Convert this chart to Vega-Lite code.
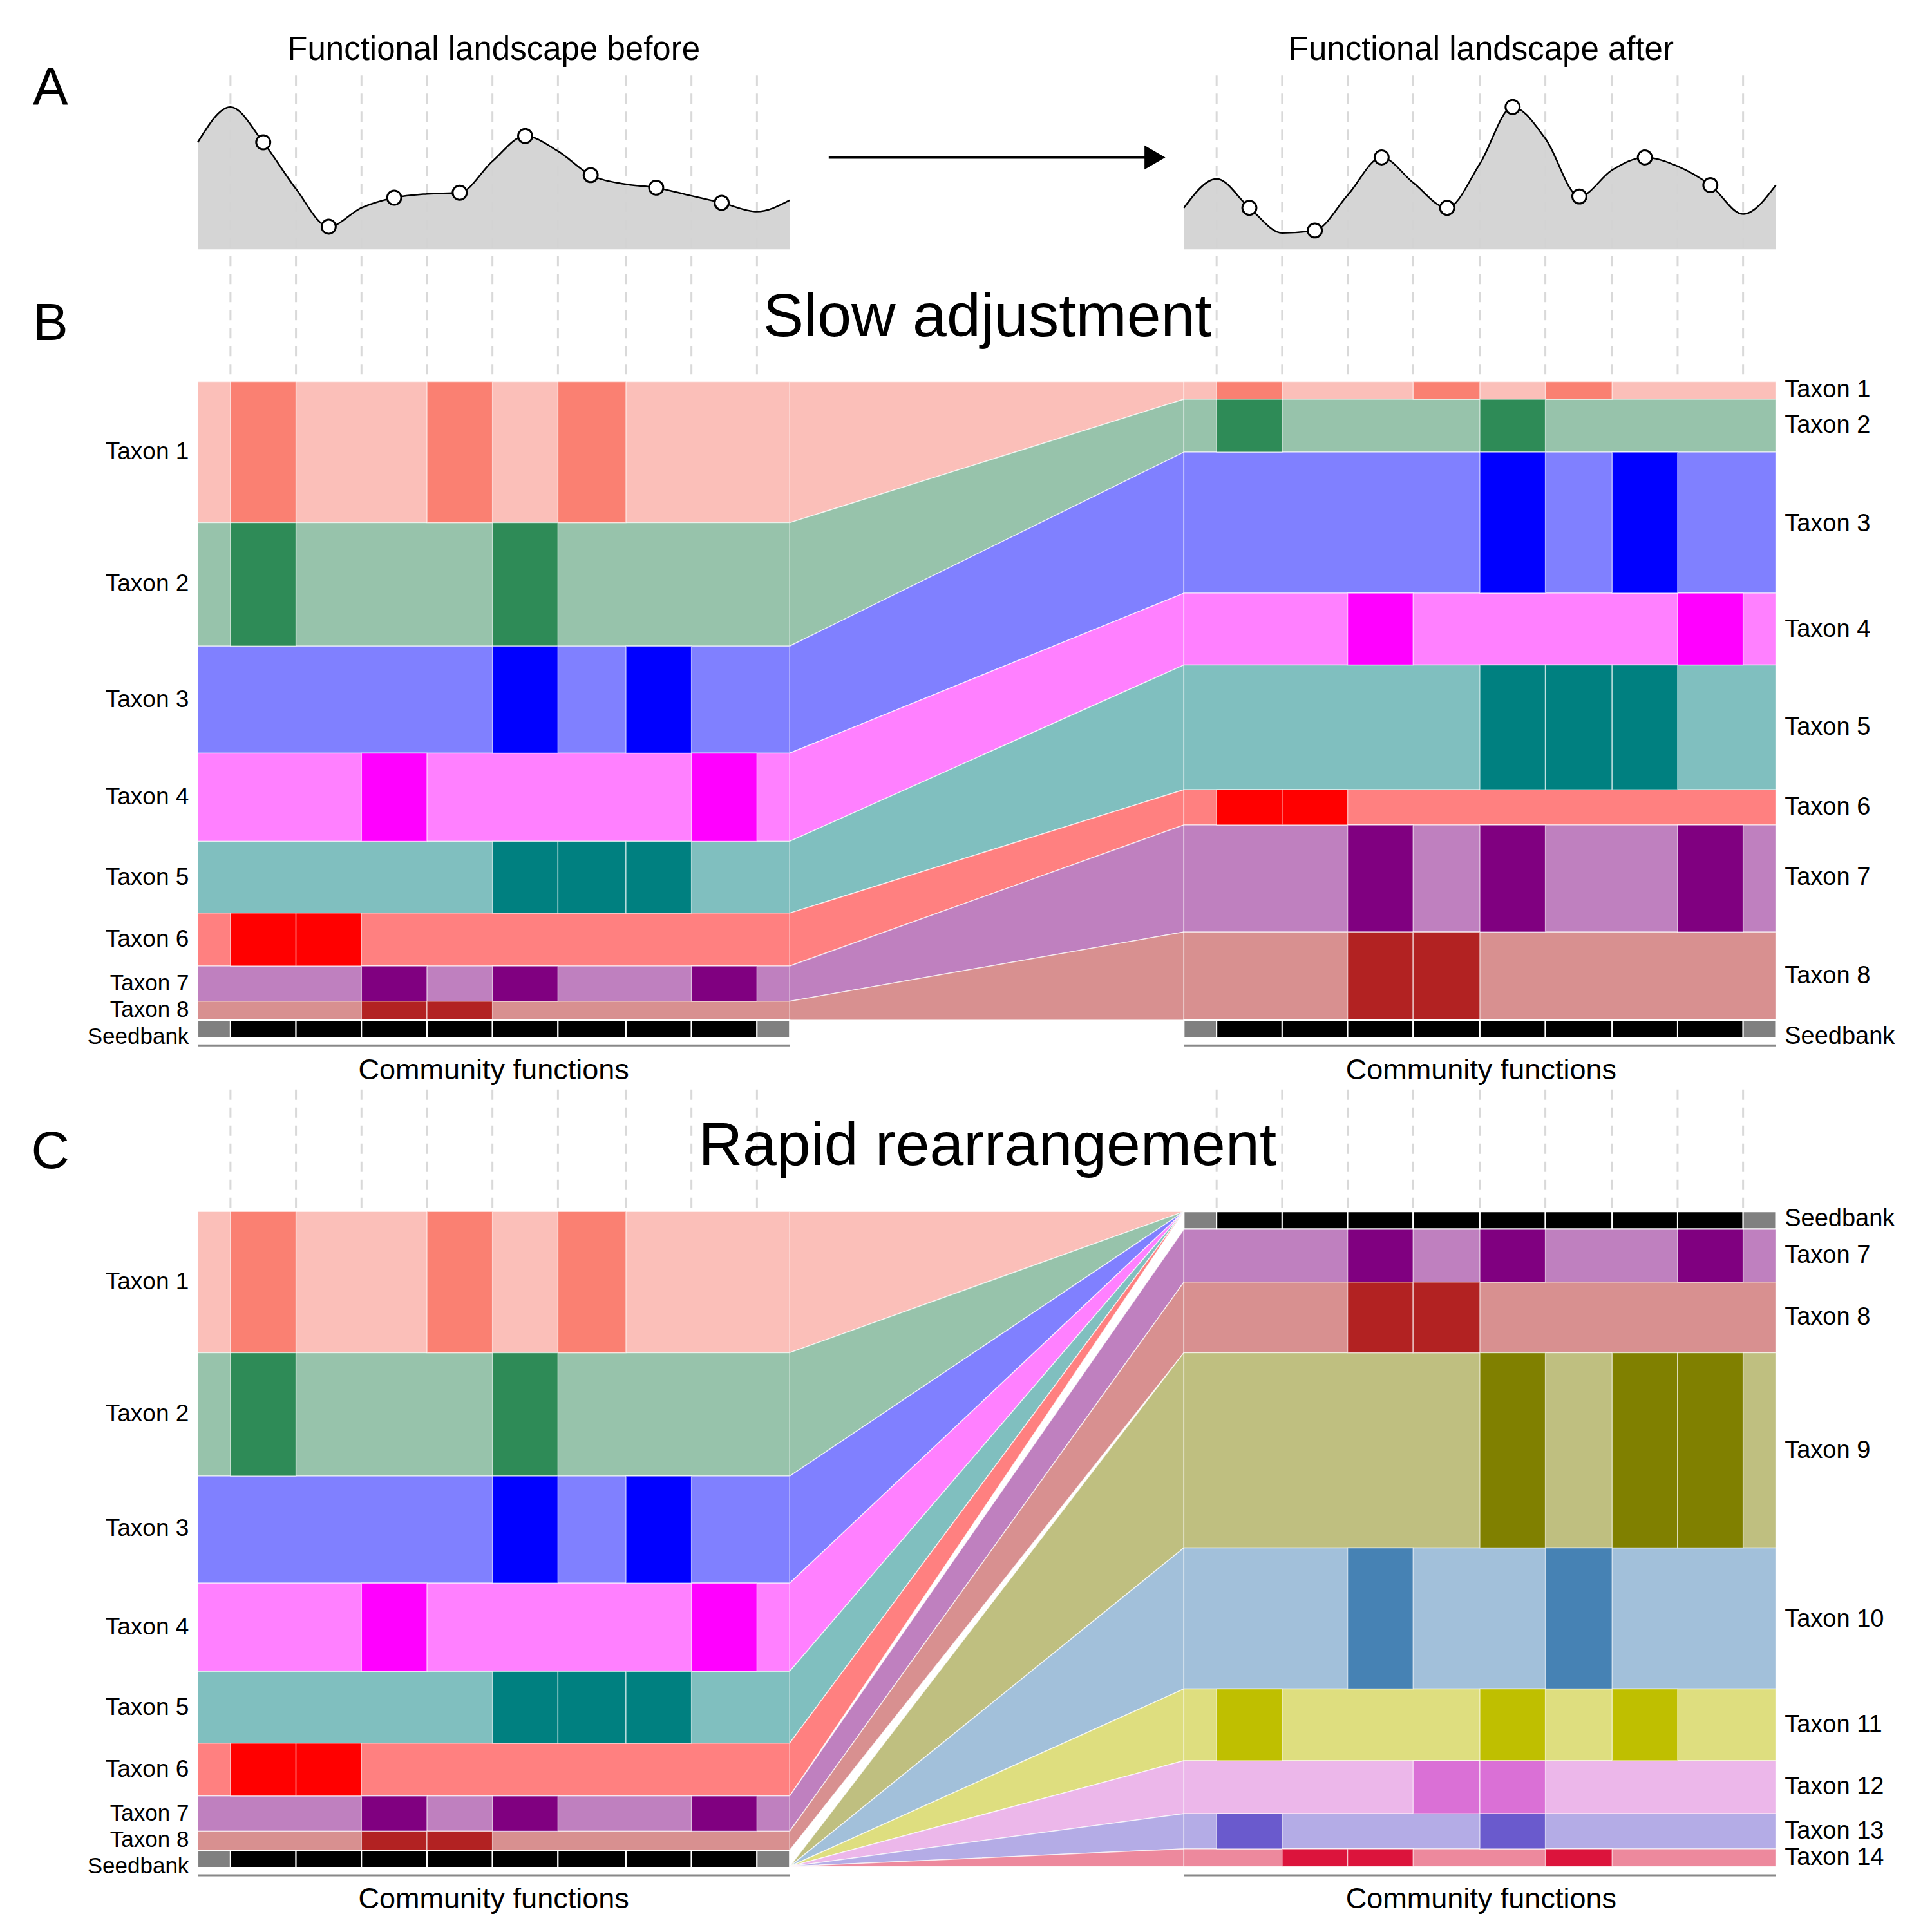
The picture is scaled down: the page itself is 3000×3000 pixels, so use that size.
{
  "$schema": "https://vega.github.io/schema/vega-lite/v6.json",
  "width": 3000,
  "height": 3000,
  "autosize": {"type": "fit", "contains": "padding"},
  "padding": 0,
  "background": "white",
  "config": {"view": {"stroke": null}, "font": "Liberation Sans"},
  "datasets": {
    "land": [
      {"p":"L","x":157,"y":113},{"p":"L","x":183,"y":85},{"p":"L","x":209,"y":113},{"p":"L","x":235,"y":150},{"p":"L","x":261,"y":180},{"p":"L","x":287,"y":165},{"p":"L","x":313,"y":157},{"p":"L","x":339,"y":154},{"p":"L","x":365,"y":153},{"p":"L","x":391,"y":128},{"p":"L","x":417,"y":108},{"p":"L","x":443,"y":120},{"p":"L","x":469,"y":139},{"p":"L","x":495,"y":146},{"p":"L","x":521,"y":149},{"p":"L","x":547,"y":155},{"p":"L","x":573,"y":161},{"p":"L","x":601,"y":168},{"p":"L","x":627,"y":159},
      {"p":"R","x":940,"y":165},{"p":"R","x":966,"y":142},{"p":"R","x":992,"y":165},{"p":"R","x":1018,"y":185},{"p":"R","x":1044,"y":183},{"p":"R","x":1070,"y":155},{"p":"R","x":1097,"y":125},{"p":"R","x":1122,"y":145},{"p":"R","x":1149,"y":165},{"p":"R","x":1175,"y":130},{"p":"R","x":1201,"y":85},{"p":"R","x":1227,"y":110},{"p":"R","x":1254,"y":156},{"p":"R","x":1280,"y":135},{"p":"R","x":1306,"y":125},{"p":"R","x":1332,"y":132},{"p":"R","x":1358,"y":147},{"p":"R","x":1384,"y":170},{"p":"R","x":1410,"y":147}
    ],
    "pts": [
      {"x":209,"y":113},{"x":261,"y":180},{"x":313,"y":157},{"x":365,"y":153},{"x":417,"y":108},{"x":469,"y":139},{"x":521,"y":149},{"x":573,"y":161},
      {"x":992,"y":165},{"x":1044,"y":183},{"x":1097,"y":125},{"x":1149,"y":165},{"x":1201,"y":85},{"x":1254,"y":156},{"x":1306,"y":125},{"x":1358,"y":147}
    ],
    "vl": [
      {"x":183,"y":60,"y2":300},{"x":235,"y":60,"y2":300},{"x":287,"y":60,"y2":300},{"x":339,"y":60,"y2":300},{"x":391,"y":60,"y2":300},{"x":443,"y":60,"y2":300},{"x":497,"y":60,"y2":300},{"x":549,"y":60,"y2":300},{"x":601,"y":60,"y2":300},
      {"x":966,"y":60,"y2":300},{"x":1018,"y":60,"y2":300},{"x":1070,"y":60,"y2":300},{"x":1122,"y":60,"y2":300},{"x":1175,"y":60,"y2":300},{"x":1227,"y":60,"y2":300},{"x":1280,"y":60,"y2":300},{"x":1332,"y":60,"y2":300},{"x":1384,"y":60,"y2":300},
      {"x":183,"y":865,"y2":960},{"x":235,"y":865,"y2":960},{"x":287,"y":865,"y2":960},{"x":339,"y":865,"y2":960},{"x":391,"y":865,"y2":960},{"x":443,"y":865,"y2":960},{"x":497,"y":865,"y2":960},{"x":549,"y":865,"y2":960},{"x":601,"y":865,"y2":960},
      {"x":966,"y":865,"y2":960},{"x":1018,"y":865,"y2":960},{"x":1070,"y":865,"y2":960},{"x":1122,"y":865,"y2":960},{"x":1175,"y":865,"y2":960},{"x":1227,"y":865,"y2":960},{"x":1280,"y":865,"y2":960},{"x":1332,"y":865,"y2":960},{"x":1384,"y":865,"y2":960}
    ],
    "hl": [
      {"x":157,"x2":627,"y":830},{"x":940,"x2":1410,"y":830},{"x":157,"x2":627,"y":1489},{"x":940,"x2":1410,"y":1489}
    ],
    "flows": [
      {"f":"b1","x":627,"y":303,"y2":415,"c":"#FBBFB9"},{"f":"b1","x":940,"y":303,"y2":317,"c":"#FBBFB9"},
      {"f":"b2","x":627,"y":415,"y2":513,"c":"#97C3AB"},{"f":"b2","x":940,"y":317,"y2":359,"c":"#97C3AB"},
      {"f":"b3","x":627,"y":513,"y2":598,"c":"#8080FF"},{"f":"b3","x":940,"y":359,"y2":471,"c":"#8080FF"},
      {"f":"b4","x":627,"y":598,"y2":668,"c":"#FF80FF"},{"f":"b4","x":940,"y":471,"y2":528,"c":"#FF80FF"},
      {"f":"b5","x":627,"y":668,"y2":725,"c":"#80BFBF"},{"f":"b5","x":940,"y":528,"y2":627,"c":"#80BFBF"},
      {"f":"b6","x":627,"y":725,"y2":767,"c":"#FF8080"},{"f":"b6","x":940,"y":627,"y2":655,"c":"#FF8080"},
      {"f":"b7","x":627,"y":767,"y2":795,"c":"#BF80BF"},{"f":"b7","x":940,"y":655,"y2":740,"c":"#BF80BF"},
      {"f":"b8","x":627,"y":795,"y2":810,"c":"#D89090"},{"f":"b8","x":940,"y":740,"y2":810,"c":"#D89090"},
      {"f":"c1","x":627,"y":962,"y2":1074,"c":"#FBBFB9"},{"f":"c1","x":940,"y":962,"y2":962,"c":"#FBBFB9"},
      {"f":"c2","x":627,"y":1074,"y2":1172,"c":"#97C3AB"},{"f":"c2","x":940,"y":962,"y2":962,"c":"#97C3AB"},
      {"f":"c3","x":627,"y":1172,"y2":1257,"c":"#8080FF"},{"f":"c3","x":940,"y":962,"y2":962,"c":"#8080FF"},
      {"f":"c4","x":627,"y":1257,"y2":1327,"c":"#FF80FF"},{"f":"c4","x":940,"y":962,"y2":962,"c":"#FF80FF"},
      {"f":"c5","x":627,"y":1327,"y2":1384,"c":"#80BFBF"},{"f":"c5","x":940,"y":962,"y2":962,"c":"#80BFBF"},
      {"f":"c6","x":627,"y":1384,"y2":1426,"c":"#FF8080"},{"f":"c6","x":940,"y":962,"y2":962,"c":"#FF8080"},
      {"f":"c7","x":627,"y":1426,"y2":1454,"c":"#BF80BF"},{"f":"c7","x":940,"y":976,"y2":1018,"c":"#BF80BF"},
      {"f":"c8","x":627,"y":1454,"y2":1469,"c":"#D89090"},{"f":"c8","x":940,"y":1018,"y2":1074,"c":"#D89090"},
      {"f":"c9","x":627,"y":1482,"y2":1482,"c":"#BFBF80"},{"f":"c9","x":940,"y":1074,"y2":1229,"c":"#BFBF80"},
      {"f":"c10","x":627,"y":1482,"y2":1482,"c":"#A2C0DA"},{"f":"c10","x":940,"y":1229,"y2":1341,"c":"#A2C0DA"},
      {"f":"c11","x":627,"y":1482,"y2":1482,"c":"#DEDE7F"},{"f":"c11","x":940,"y":1341,"y2":1398,"c":"#DEDE7F"},
      {"f":"c12","x":627,"y":1482,"y2":1482,"c":"#ECB7EA"},{"f":"c12","x":940,"y":1398,"y2":1440,"c":"#ECB7EA"},
      {"f":"c13","x":627,"y":1482,"y2":1482,"c":"#B4ACE6"},{"f":"c13","x":940,"y":1440,"y2":1468,"c":"#B4ACE6"},
      {"f":"c14","x":627,"y":1482,"y2":1482,"c":"#ED899D"},{"f":"c14","x":940,"y":1468,"y2":1482,"c":"#ED899D"}
    ],
    "bands": [
      {"x":157,"x2":627,"y":303,"y2":415,"c":"#FBBFB9"},{"x":157,"x2":627,"y":415,"y2":513,"c":"#97C3AB"},{"x":157,"x2":627,"y":513,"y2":598,"c":"#8080FF"},{"x":157,"x2":627,"y":598,"y2":668,"c":"#FF80FF"},{"x":157,"x2":627,"y":668,"y2":725,"c":"#80BFBF"},{"x":157,"x2":627,"y":725,"y2":767,"c":"#FF8080"},{"x":157,"x2":627,"y":767,"y2":795,"c":"#BF80BF"},{"x":157,"x2":627,"y":795,"y2":810,"c":"#D89090"},
      {"x":940,"x2":1410,"y":303,"y2":317,"c":"#FBBFB9"},{"x":940,"x2":1410,"y":317,"y2":359,"c":"#97C3AB"},{"x":940,"x2":1410,"y":359,"y2":471,"c":"#8080FF"},{"x":940,"x2":1410,"y":471,"y2":528,"c":"#FF80FF"},{"x":940,"x2":1410,"y":528,"y2":627,"c":"#80BFBF"},{"x":940,"x2":1410,"y":627,"y2":655,"c":"#FF8080"},{"x":940,"x2":1410,"y":655,"y2":740,"c":"#BF80BF"},{"x":940,"x2":1410,"y":740,"y2":810,"c":"#D89090"},
      {"x":157,"x2":627,"y":962,"y2":1074,"c":"#FBBFB9"},{"x":157,"x2":627,"y":1074,"y2":1172,"c":"#97C3AB"},{"x":157,"x2":627,"y":1172,"y2":1257,"c":"#8080FF"},{"x":157,"x2":627,"y":1257,"y2":1327,"c":"#FF80FF"},{"x":157,"x2":627,"y":1327,"y2":1384,"c":"#80BFBF"},{"x":157,"x2":627,"y":1384,"y2":1426,"c":"#FF8080"},{"x":157,"x2":627,"y":1426,"y2":1454,"c":"#BF80BF"},{"x":157,"x2":627,"y":1454,"y2":1469,"c":"#D89090"},
      {"x":940,"x2":1410,"y":976,"y2":1018,"c":"#BF80BF"},{"x":940,"x2":1410,"y":1018,"y2":1074,"c":"#D89090"},{"x":940,"x2":1410,"y":1074,"y2":1229,"c":"#BFBF80"},{"x":940,"x2":1410,"y":1229,"y2":1341,"c":"#A2C0DA"},{"x":940,"x2":1410,"y":1341,"y2":1398,"c":"#DEDE7F"},{"x":940,"x2":1410,"y":1398,"y2":1440,"c":"#ECB7EA"},{"x":940,"x2":1410,"y":1440,"y2":1468,"c":"#B4ACE6"},{"x":940,"x2":1410,"y":1468,"y2":1482,"c":"#ED899D"}
    ],
    "seed": [
      {"x":157,"x2":183,"y":810,"c":"#808080"},{"x":183,"x2":235,"y":810,"c":"#000000"},{"x":235,"x2":287,"y":810,"c":"#000000"},{"x":287,"x2":339,"y":810,"c":"#000000"},{"x":339,"x2":391,"y":810,"c":"#000000"},{"x":391,"x2":443,"y":810,"c":"#000000"},{"x":443,"x2":497,"y":810,"c":"#000000"},{"x":497,"x2":549,"y":810,"c":"#000000"},{"x":549,"x2":601,"y":810,"c":"#000000"},{"x":601,"x2":627,"y":810,"c":"#808080"},
      {"x":940,"x2":966,"y":810,"c":"#808080"},{"x":966,"x2":1018,"y":810,"c":"#000000"},{"x":1018,"x2":1070,"y":810,"c":"#000000"},{"x":1070,"x2":1122,"y":810,"c":"#000000"},{"x":1122,"x2":1175,"y":810,"c":"#000000"},{"x":1175,"x2":1227,"y":810,"c":"#000000"},{"x":1227,"x2":1280,"y":810,"c":"#000000"},{"x":1280,"x2":1332,"y":810,"c":"#000000"},{"x":1332,"x2":1384,"y":810,"c":"#000000"},{"x":1384,"x2":1410,"y":810,"c":"#808080"},
      {"x":157,"x2":183,"y":1469,"c":"#808080"},{"x":183,"x2":235,"y":1469,"c":"#000000"},{"x":235,"x2":287,"y":1469,"c":"#000000"},{"x":287,"x2":339,"y":1469,"c":"#000000"},{"x":339,"x2":391,"y":1469,"c":"#000000"},{"x":391,"x2":443,"y":1469,"c":"#000000"},{"x":443,"x2":497,"y":1469,"c":"#000000"},{"x":497,"x2":549,"y":1469,"c":"#000000"},{"x":549,"x2":601,"y":1469,"c":"#000000"},{"x":601,"x2":627,"y":1469,"c":"#808080"},
      {"x":940,"x2":966,"y":962,"c":"#808080"},{"x":966,"x2":1018,"y":962,"c":"#000000"},{"x":1018,"x2":1070,"y":962,"c":"#000000"},{"x":1070,"x2":1122,"y":962,"c":"#000000"},{"x":1122,"x2":1175,"y":962,"c":"#000000"},{"x":1175,"x2":1227,"y":962,"c":"#000000"},{"x":1227,"x2":1280,"y":962,"c":"#000000"},{"x":1280,"x2":1332,"y":962,"c":"#000000"},{"x":1332,"x2":1384,"y":962,"c":"#000000"},{"x":1384,"x2":1410,"y":962,"c":"#808080"}
    ],
    "cells": [
      {"x":183,"x2":235,"y":303,"y2":415,"c":"#FA8072"},{"x":339,"x2":391,"y":303,"y2":415,"c":"#FA8072"},{"x":443,"x2":497,"y":303,"y2":415,"c":"#FA8072"},
      {"x":183,"x2":235,"y":415,"y2":513,"c":"#2E8B57"},{"x":391,"x2":443,"y":415,"y2":513,"c":"#2E8B57"},
      {"x":391,"x2":443,"y":513,"y2":598,"c":"#0000FF"},{"x":497,"x2":549,"y":513,"y2":598,"c":"#0000FF"},
      {"x":287,"x2":339,"y":598,"y2":668,"c":"#FF00FF"},{"x":549,"x2":601,"y":598,"y2":668,"c":"#FF00FF"},
      {"x":391,"x2":443,"y":668,"y2":725,"c":"#008080"},{"x":443,"x2":497,"y":668,"y2":725,"c":"#008080"},{"x":497,"x2":549,"y":668,"y2":725,"c":"#008080"},
      {"x":183,"x2":235,"y":725,"y2":767,"c":"#FF0000"},{"x":235,"x2":287,"y":725,"y2":767,"c":"#FF0000"},
      {"x":287,"x2":339,"y":767,"y2":795,"c":"#800080"},{"x":391,"x2":443,"y":767,"y2":795,"c":"#800080"},{"x":549,"x2":601,"y":767,"y2":795,"c":"#800080"},
      {"x":287,"x2":339,"y":795,"y2":810,"c":"#B22222"},{"x":339,"x2":391,"y":795,"y2":810,"c":"#B22222"},

      {"x":966,"x2":1018,"y":303,"y2":317,"c":"#FA8072"},{"x":1122,"x2":1175,"y":303,"y2":317,"c":"#FA8072"},{"x":1227,"x2":1280,"y":303,"y2":317,"c":"#FA8072"},
      {"x":966,"x2":1018,"y":317,"y2":359,"c":"#2E8B57"},{"x":1175,"x2":1227,"y":317,"y2":359,"c":"#2E8B57"},
      {"x":1175,"x2":1227,"y":359,"y2":471,"c":"#0000FF"},{"x":1280,"x2":1332,"y":359,"y2":471,"c":"#0000FF"},
      {"x":1070,"x2":1122,"y":471,"y2":528,"c":"#FF00FF"},{"x":1332,"x2":1384,"y":471,"y2":528,"c":"#FF00FF"},
      {"x":1175,"x2":1227,"y":528,"y2":627,"c":"#008080"},{"x":1227,"x2":1280,"y":528,"y2":627,"c":"#008080"},{"x":1280,"x2":1332,"y":528,"y2":627,"c":"#008080"},
      {"x":966,"x2":1018,"y":627,"y2":655,"c":"#FF0000"},{"x":1018,"x2":1070,"y":627,"y2":655,"c":"#FF0000"},
      {"x":1070,"x2":1122,"y":655,"y2":740,"c":"#800080"},{"x":1175,"x2":1227,"y":655,"y2":740,"c":"#800080"},{"x":1332,"x2":1384,"y":655,"y2":740,"c":"#800080"},
      {"x":1070,"x2":1122,"y":740,"y2":810,"c":"#B22222"},{"x":1122,"x2":1175,"y":740,"y2":810,"c":"#B22222"},

      {"x":183,"x2":235,"y":962,"y2":1074,"c":"#FA8072"},{"x":339,"x2":391,"y":962,"y2":1074,"c":"#FA8072"},{"x":443,"x2":497,"y":962,"y2":1074,"c":"#FA8072"},
      {"x":183,"x2":235,"y":1074,"y2":1172,"c":"#2E8B57"},{"x":391,"x2":443,"y":1074,"y2":1172,"c":"#2E8B57"},
      {"x":391,"x2":443,"y":1172,"y2":1257,"c":"#0000FF"},{"x":497,"x2":549,"y":1172,"y2":1257,"c":"#0000FF"},
      {"x":287,"x2":339,"y":1257,"y2":1327,"c":"#FF00FF"},{"x":549,"x2":601,"y":1257,"y2":1327,"c":"#FF00FF"},
      {"x":391,"x2":443,"y":1327,"y2":1384,"c":"#008080"},{"x":443,"x2":497,"y":1327,"y2":1384,"c":"#008080"},{"x":497,"x2":549,"y":1327,"y2":1384,"c":"#008080"},
      {"x":183,"x2":235,"y":1384,"y2":1426,"c":"#FF0000"},{"x":235,"x2":287,"y":1384,"y2":1426,"c":"#FF0000"},
      {"x":287,"x2":339,"y":1426,"y2":1454,"c":"#800080"},{"x":391,"x2":443,"y":1426,"y2":1454,"c":"#800080"},{"x":549,"x2":601,"y":1426,"y2":1454,"c":"#800080"},
      {"x":287,"x2":339,"y":1454,"y2":1469,"c":"#B22222"},{"x":339,"x2":391,"y":1454,"y2":1469,"c":"#B22222"},

      {"x":1070,"x2":1122,"y":976,"y2":1018,"c":"#800080"},{"x":1175,"x2":1227,"y":976,"y2":1018,"c":"#800080"},{"x":1332,"x2":1384,"y":976,"y2":1018,"c":"#800080"},
      {"x":1070,"x2":1122,"y":1018,"y2":1074,"c":"#B22222"},{"x":1122,"x2":1175,"y":1018,"y2":1074,"c":"#B22222"},
      {"x":1175,"x2":1227,"y":1074,"y2":1229,"c":"#808000"},{"x":1280,"x2":1332,"y":1074,"y2":1229,"c":"#808000"},{"x":1332,"x2":1384,"y":1074,"y2":1229,"c":"#808000"},
      {"x":1070,"x2":1122,"y":1229,"y2":1341,"c":"#4682B4"},{"x":1227,"x2":1280,"y":1229,"y2":1341,"c":"#4682B4"},
      {"x":966,"x2":1018,"y":1341,"y2":1398,"c":"#BFBF00"},{"x":1175,"x2":1227,"y":1341,"y2":1398,"c":"#BFBF00"},{"x":1280,"x2":1332,"y":1341,"y2":1398,"c":"#BFBF00"},
      {"x":1122,"x2":1175,"y":1398,"y2":1440,"c":"#DA70D6"},{"x":1175,"x2":1227,"y":1398,"y2":1440,"c":"#DA70D6"},
      {"x":966,"x2":1018,"y":1440,"y2":1468,"c":"#6A5ACD"},{"x":1175,"x2":1227,"y":1440,"y2":1468,"c":"#6A5ACD"},
      {"x":1018,"x2":1070,"y":1468,"y2":1482,"c":"#DC143C"},{"x":1070,"x2":1122,"y":1468,"y2":1482,"c":"#DC143C"},{"x":1227,"x2":1280,"y":1468,"y2":1482,"c":"#DC143C"}
    ],
    "tc": [
      {"x":392,"y":40,"t":"Functional landscape before","s":51},
      {"x":1176,"y":40,"t":"Functional landscape after","s":51},
      {"x":784,"y":252,"t":"Slow adjustment","s":95},
      {"x":784,"y":910,"t":"Rapid rearrangement","s":95},
      {"x":392,"y":850,"t":"Community functions","s":45},
      {"x":1176,"y":850,"t":"Community functions","s":45},
      {"x":392,"y":1508,"t":"Community functions","s":45},
      {"x":1176,"y":1508,"t":"Community functions","s":45},
      {"x":40,"y":70,"t":"A","s":82},
      {"x":40,"y":257,"t":"B","s":82},
      {"x":40,"y":915,"t":"C","s":82}
    ],
    "tr": [
      {"y":359,"t":"Taxon 1","s":37},{"y":464,"t":"Taxon 2","s":37},{"y":556,"t":"Taxon 3","s":37},{"y":633,"t":"Taxon 4","s":37},{"y":697,"t":"Taxon 5","s":37},{"y":746,"t":"Taxon 6","s":37},{"y":781,"t":"Taxon 7","s":35},{"y":802,"t":"Taxon 8","s":35},{"y":823,"t":"Seedbank","s":35},
      {"y":1018,"t":"Taxon 1","s":37},{"y":1123,"t":"Taxon 2","s":37},{"y":1214,"t":"Taxon 3","s":37},{"y":1292,"t":"Taxon 4","s":37},{"y":1356,"t":"Taxon 5","s":37},{"y":1405,"t":"Taxon 6","s":37},{"y":1440,"t":"Taxon 7","s":35},{"y":1461,"t":"Taxon 8","s":35},{"y":1482,"t":"Seedbank","s":35}
    ],
    "tl": [
      {"y":310,"t":"Taxon 1"},{"y":338,"t":"Taxon 2"},{"y":416,"t":"Taxon 3"},{"y":500,"t":"Taxon 4"},{"y":578,"t":"Taxon 5"},{"y":641,"t":"Taxon 6"},{"y":697,"t":"Taxon 7"},{"y":775,"t":"Taxon 8"},{"y":823,"t":"Seedbank"},
      {"y":968,"t":"Seedbank"},{"y":997,"t":"Taxon 7"},{"y":1046,"t":"Taxon 8"},{"y":1152,"t":"Taxon 9"},{"y":1286,"t":"Taxon 10"},{"y":1370,"t":"Taxon 11"},{"y":1419,"t":"Taxon 12"},{"y":1454,"t":"Taxon 13"},{"y":1475,"t":"Taxon 14"}
    ]
  },
  "layer": [
    {
      "data": {"name": "vl"},
      "mark": {"type": "rule", "color": "#d9d9d9", "strokeWidth": 3, "strokeDash": [16, 12]},
      "encoding": {
        "x": {"field": "x", "type": "quantitative", "scale": {"domain": [0, 1534], "nice": false, "zero": false}, "axis": null},
        "y": {"field": "y", "type": "quantitative", "scale": {"domain": [0, 1534], "nice": false, "zero": false, "reverse": true}, "axis": null},
        "y2": {"field": "y2"}
      }
    },
    {
      "data": {"name": "land"},
      "mark": {"type": "area", "interpolate": "monotone", "color": "#d3d3d3", "opacity": 0.95},
      "encoding": {
        "x": {"field": "x", "type": "quantitative", "scale": {"domain": [0, 1534], "nice": false, "zero": false}, "axis": null},
        "y": {"field": "y", "type": "quantitative", "stack": null, "scale": {"domain": [0, 1534], "nice": false, "zero": false, "reverse": true}, "axis": null},
        "y2": {"datum": 198},
        "detail": {"field": "p"}
      }
    },
    {
      "data": {"name": "land"},
      "mark": {"type": "line", "interpolate": "monotone", "color": "black", "strokeWidth": 2.5},
      "encoding": {
        "x": {"field": "x", "type": "quantitative", "scale": {"domain": [0, 1534], "nice": false, "zero": false}, "axis": null},
        "y": {"field": "y", "type": "quantitative", "scale": {"domain": [0, 1534], "nice": false, "zero": false, "reverse": true}, "axis": null},
        "detail": {"field": "p"}
      }
    },
    {
      "data": {"name": "pts"},
      "mark": {"type": "point", "filled": true, "fill": "white", "stroke": "black", "strokeWidth": 3, "size": 480, "opacity": 1},
      "encoding": {
        "x": {"field": "x", "type": "quantitative", "scale": {"domain": [0, 1534], "nice": false, "zero": false}, "axis": null},
        "y": {"field": "y", "type": "quantitative", "scale": {"domain": [0, 1534], "nice": false, "zero": false, "reverse": true}, "axis": null}
      }
    },
    {
      "data": {"values": [{"x": 658, "x2": 912, "y": 125}]},
      "mark": {"type": "rule", "color": "black", "strokeWidth": 4},
      "encoding": {
        "x": {"field": "x", "type": "quantitative", "scale": {"domain": [0, 1534], "nice": false, "zero": false}, "axis": null},
        "x2": {"field": "x2"},
        "y": {"field": "y", "type": "quantitative", "scale": {"domain": [0, 1534], "nice": false, "zero": false, "reverse": true}, "axis": null}
      }
    },
    {
      "data": {"values": [{"x": 917, "y": 125}]},
      "mark": {"type": "point", "shape": "triangle-right", "filled": true, "color": "black", "size": 1400, "opacity": 1},
      "encoding": {
        "x": {"field": "x", "type": "quantitative", "scale": {"domain": [0, 1534], "nice": false, "zero": false}, "axis": null},
        "y": {"field": "y", "type": "quantitative", "scale": {"domain": [0, 1534], "nice": false, "zero": false, "reverse": true}, "axis": null}
      }
    },
    {
      "data": {"name": "flows"},
      "mark": {"type": "area", "interpolate": "linear", "opacity": 1, "stroke": "white", "strokeWidth": 1.5, "strokeOpacity": 0.7},
      "encoding": {
        "x": {"field": "x", "type": "quantitative", "scale": {"domain": [0, 1534], "nice": false, "zero": false}, "axis": null},
        "y": {"field": "y", "type": "quantitative", "stack": null, "scale": {"domain": [0, 1534], "nice": false, "zero": false, "reverse": true}, "axis": null},
        "y2": {"field": "y2"},
        "detail": {"field": "f"},
        "fill": {"field": "c", "type": "nominal", "scale": null}
      }
    },
    {
      "data": {"name": "bands"},
      "mark": {"type": "rect", "stroke": "white", "strokeWidth": 1.5, "strokeOpacity": 0.6},
      "encoding": {
        "x": {"field": "x", "type": "quantitative", "scale": {"domain": [0, 1534], "nice": false, "zero": false}, "axis": null},
        "x2": {"field": "x2"},
        "y": {"field": "y", "type": "quantitative", "scale": {"domain": [0, 1534], "nice": false, "zero": false, "reverse": true}, "axis": null},
        "y2": {"field": "y2"},
        "fill": {"field": "c", "type": "nominal", "scale": null}
      }
    },
    {
      "data": {"name": "cells"},
      "mark": {"type": "rect", "stroke": "white", "strokeWidth": 1.5, "strokeOpacity": 0.6},
      "encoding": {
        "x": {"field": "x", "type": "quantitative", "scale": {"domain": [0, 1534], "nice": false, "zero": false}, "axis": null},
        "x2": {"field": "x2"},
        "y": {"field": "y", "type": "quantitative", "scale": {"domain": [0, 1534], "nice": false, "zero": false, "reverse": true}, "axis": null},
        "y2": {"field": "y2"},
        "fill": {"field": "c", "type": "nominal", "scale": null}
      }
    },
    {
      "data": {"name": "seed"},
      "mark": {"type": "rect", "stroke": "white", "strokeWidth": 2, "height": 27},
      "encoding": {
        "x": {"field": "x", "type": "quantitative", "scale": {"domain": [0, 1534], "nice": false, "zero": false}, "axis": null},
        "x2": {"field": "x2"},
        "y": {"field": "y", "type": "quantitative", "scale": {"domain": [0, 1534], "nice": false, "zero": false, "reverse": true}, "axis": null},
        "yOffset": {"value": 13.5},
        "fill": {"field": "c", "type": "nominal", "scale": null}
      }
    },
    {
      "data": {"name": "hl"},
      "mark": {"type": "rule", "color": "#888888", "strokeWidth": 3},
      "encoding": {
        "x": {"field": "x", "type": "quantitative", "scale": {"domain": [0, 1534], "nice": false, "zero": false}, "axis": null},
        "x2": {"field": "x2"},
        "y": {"field": "y", "type": "quantitative", "scale": {"domain": [0, 1534], "nice": false, "zero": false, "reverse": true}, "axis": null}
      }
    },
    {
      "data": {"name": "tc"},
      "mark": {"type": "text", "align": "center", "baseline": "middle", "color": "black"},
      "encoding": {
        "x": {"field": "x", "type": "quantitative", "scale": {"domain": [0, 1534], "nice": false, "zero": false}, "axis": null},
        "y": {"field": "y", "type": "quantitative", "scale": {"domain": [0, 1534], "nice": false, "zero": false, "reverse": true}, "axis": null},
        "text": {"field": "t"},
        "size": {"field": "s", "type": "quantitative", "scale": null}
      }
    },
    {
      "data": {"name": "tr"},
      "mark": {"type": "text", "align": "right", "baseline": "middle", "color": "black"},
      "encoding": {
        "x": {"datum": 150, "type": "quantitative", "scale": {"domain": [0, 1534], "nice": false, "zero": false}, "axis": null},
        "y": {"field": "y", "type": "quantitative", "scale": {"domain": [0, 1534], "nice": false, "zero": false, "reverse": true}, "axis": null},
        "text": {"field": "t"},
        "size": {"field": "s", "type": "quantitative", "scale": null}
      }
    },
    {
      "data": {"name": "tl"},
      "mark": {"type": "text", "align": "left", "baseline": "middle", "color": "black", "fontSize": 38},
      "encoding": {
        "x": {"datum": 1417, "type": "quantitative", "scale": {"domain": [0, 1534], "nice": false, "zero": false}, "axis": null},
        "y": {"field": "y", "type": "quantitative", "scale": {"domain": [0, 1534], "nice": false, "zero": false, "reverse": true}, "axis": null},
        "text": {"field": "t"}
      }
    }
  ]
}
